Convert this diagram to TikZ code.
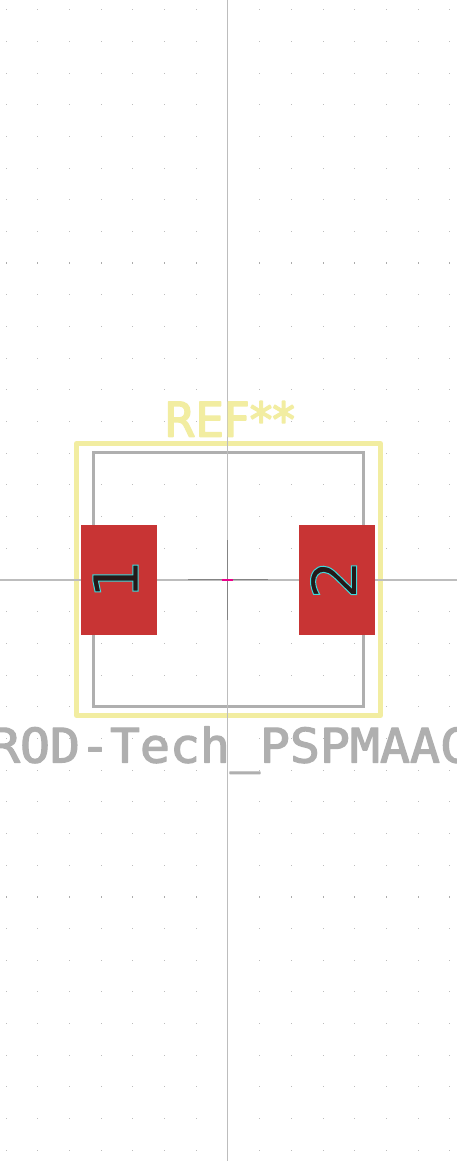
\documentclass[tikz,border=0pt]{standalone}
\usepackage{fontspec}
\setmainfont{DejaVu Sans}
\newfontfamily\stemono{DejaVu Sans Mono}
\definecolor{silk}{HTML}{F2EDA1}
\definecolor{crt}{HTML}{AFAFAF}
\definecolor{padred}{HTML}{C83434}
\definecolor{axisgray}{HTML}{BDBDBD}
\definecolor{markgray}{HTML}{848484}
\definecolor{griddot}{HTML}{BCBCBC}
\definecolor{gridbold}{HTML}{ABABAB}
\definecolor{digitdark}{HTML}{241A1A}
\newcommand{\outlined}[1]{\special{pdf:code q 2 Tr 1.0 w 0.25 0.85 0.86 RG 0.14 0.10 0.10 rg}#1\special{pdf:code Q}}
\newcommand{\silktext}[1]{\special{pdf:code q 2 Tr 1.6 w 1 J 1 j 0.949 0.929 0.631 RG 0.949 0.929 0.631 rg}#1\special{pdf:code Q}}
\newcommand{\crttext}[1]{\special{pdf:code q 2 Tr 1.2 w 1 J 1 j 0.686 0.686 0.686 RG 0.686 0.686 0.686 rg}#1\special{pdf:code Q}}
\tikzset{
  x=1pt,y=-1pt,
  silkline/.style={draw=silk,line width=5pt,line join=round},
  crtline/.style={draw=crt,line width=3pt,line join=miter},
  padrect/.style={fill=padred,draw=none},
  axisline/.style={draw=axisgray,line width=1.2pt},
  markline/.style={draw=markgray,line width=1.1pt},
  padnum/.style={font=\fontsize{62}{62}\selectfont,text=digitdark,rotate=90,inner sep=0pt},
}
\begin{document}
\begin{tikzpicture}
\useasboundingbox (0,0) rectangle (457,1161);
\fill[white] (0,0) rectangle (457,1161);
\clip (0,0) rectangle (457,1161);
% grid
\foreach \gx in {6,37,69,101,132,164,196,259,291,323,354,386,418,449}{
  \foreach \gy in {9,41,73,104,136,168,199,231,294,326,358,389,421,453,484,516,548,611,643,675,706,738,770,801,833,865,928,960,991,1023,1055,1086,1118,1150}{
    \fill[griddot] (\gx,\gy) rectangle ++(1,1);
  }
  \foreach \gy in {262,896}{
    \fill[gridbold] (\gx,\gy) rectangle ++(1,2);
  }
}
% outlines
\draw[crtline] (93.8,452.5) rectangle (363.5,706.2);
\draw[silkline] (76.5,443.5) rectangle (380.5,715.5);
% axes
\coordinate (axl) at (0,580);
\coordinate (axr) at (457,580);
\coordinate (axt) at (227.5,0);
\coordinate (axb) at (227.5,1161);
\draw[axisline] (axl) -- (axr);
\draw[axisline] (axt) -- (axb);
% pads
\node[padrect,minimum width=76pt,minimum height=110pt,inner sep=0pt] (pad1) at (119,580) {};
\node[padrect,minimum width=76pt,minimum height=110pt,inner sep=0pt] (pad2) at (337,580) {};
\node[padnum] (num1) at (115.5,579) {\outlined{1}};
\node[padnum] (num2) at (333.5,579.5) {\outlined{2}};
% centre mark
\coordinate (mh1) at (188,579.3);
\coordinate (mh2) at (268,579.3);
\coordinate (mv1) at (227.2,540);
\coordinate (mv2) at (227.2,620);
\draw[markline] (mh1) -- (mh2);
\draw[markline] (mv1) -- (mv2);
\coordinate (mm1) at (222,580);
\coordinate (mm2) at (233,580);
\draw[draw=magenta,line width=1.2pt] (mm1) -- (mm2);
% texts
\node[anchor=base,font=\fontsize{47.5}{47.5}\selectfont,xscale=0.948,inner sep=0pt] (ref) at (229.5,436.5) {\silktext{REF**}};
\node[anchor=base,font=\stemono\fontsize{47.5}{47.5}\selectfont,xscale=1.049,inner sep=0pt] (val) at (230,762.5) {\crttext{ROD-Tech\_PSPMAAC}};
\end{tikzpicture}
\end{document}
